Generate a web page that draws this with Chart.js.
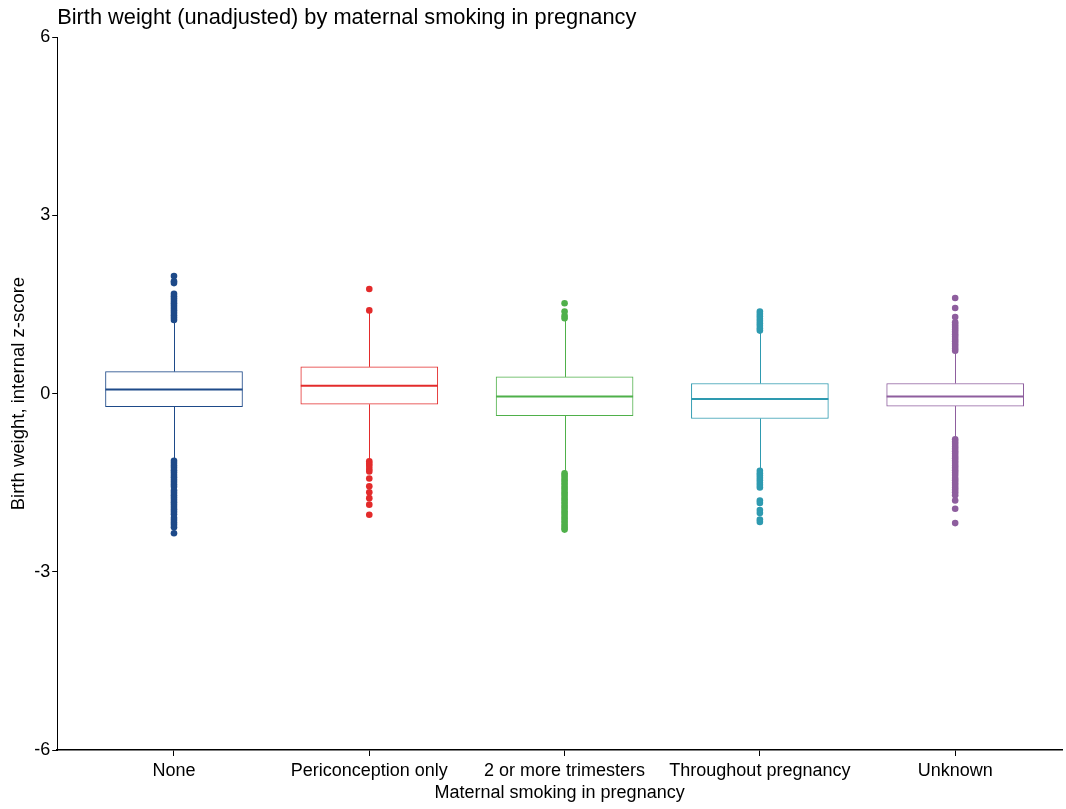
<!DOCTYPE html>
<html>
<head>
<meta charset="utf-8">
<script src="https://cdn.jsdelivr.net/npm/chart.js@4/dist/chart.umd.min.js"></script>
<style>
  html, body { margin: 0; padding: 0; background: #fff; }
  #wrap { width: 1066px; height: 809px; }
</style>
</head>
<body>
<div id="wrap"><canvas id="chart" width="1066" height="809"></canvas></div>
<script>
// Box summaries (internal z-score)
const categories = ["None", "Periconception only", "2 or more trimesters", "Throughout pregnancy", "Unknown"];
const colors = ["#1e4a89", "#e32b2b", "#4fb04a", "#2e9ab0", "#8e5e9e"];
const q1 = [-0.22, -0.18, -0.37, -0.42, -0.21];
const medians = [0.07, 0.13, -0.05, -0.09, -0.05];
const q3 = [0.37, 0.45, 0.28, 0.17, 0.17];
const whiskerLow = [-1.10, -1.11, -1.32, -1.28, -0.75];
const whiskerHigh = [1.21, 1.38, 1.25, 1.03, 0.69];
const yTicks = [-6, -3, 0, 3, 6];

// Outside values per group
const outliersNone = [1.24, 1.28, 1.32, 1.36, 1.40, 1.44, 1.48, 1.52, 1.56, 1.60, 1.64, 1.68, 1.86, 1.89, 1.98,
  -1.13, -1.17, -1.21, -1.25, -1.29, -1.33, -1.37, -1.41, -1.45, -1.49, -1.53, -1.57, -1.63, -1.67, -1.71,
  -1.75, -1.79, -1.83, -1.87, -1.91, -1.95, -1.99, -2.03, -2.09, -2.13, -2.17, -2.21, -2.25, -2.35];
const outliersPeri = [1.40, 1.76, -1.14, -1.18, -1.22, -1.27, -1.31, -1.43, -1.56, -1.66, -1.76, -1.87, -2.04];
const outliersTwoPlus = [1.27, 1.31, 1.38, 1.52,
  -1.34, -1.38, -1.42, -1.46, -1.50, -1.54, -1.58, -1.62, -1.66, -1.70, -1.74, -1.78, -1.82,
  -1.86, -1.90, -1.94, -1.98, -2.02, -2.06, -2.10, -2.14, -2.18, -2.22, -2.26, -2.29];
const outliersThroughout = [1.06, 1.10, 1.14, 1.18, 1.22, 1.26, 1.30, 1.34, 1.38,
  -1.30, -1.34, -1.38, -1.42, -1.46, -1.50, -1.54, -1.58, -1.80, -1.84, -1.96, -2.01, -2.12, -2.16];
const outliersUnknown = [0.72, 0.76, 0.80, 0.84, 0.88, 0.92, 0.96, 1.00, 1.04, 1.08, 1.12, 1.16, 1.20, 1.29, 1.44, 1.61,
  -0.77, -0.81, -0.85, -0.89, -0.93, -0.97, -1.01, -1.05, -1.09, -1.13, -1.17, -1.21, -1.25, -1.29, -1.33, -1.37,
  -1.42, -1.46, -1.50, -1.54, -1.58, -1.62, -1.66, -1.71, -1.80, -1.94, -2.18];
const outliers = [outliersNone, outliersPeri, outliersTwoPlus, outliersThroughout, outliersUnknown];

const FONT = "'Liberation Sans', Arial, sans-serif";

// whiskers behind boxes, medians on top, all placed through chart scales
const boxLines = {
  id: "boxLines",
  beforeDatasetsDraw(chart) {
    const { ctx, scales: { x, y } } = chart;
    ctx.save();
    ctx.lineWidth = 1;
    categories.forEach((c, i) => {
      const px = Math.round(x.getPixelForValue(i + 1)) + 0.5;
      ctx.strokeStyle = colors[i];
      ctx.beginPath();
      ctx.moveTo(px, y.getPixelForValue(q3[i]));
      ctx.lineTo(px, y.getPixelForValue(whiskerHigh[i]));
      ctx.moveTo(px, y.getPixelForValue(q1[i]));
      ctx.lineTo(px, y.getPixelForValue(whiskerLow[i]));
      ctx.stroke();
    });
    ctx.restore();
  },
  afterDatasetsDraw(chart) {
    const { ctx, scales: { y } } = chart;
    const bars = chart.getDatasetMeta(0).data;
    ctx.save();
    ctx.lineWidth = 2;
    categories.forEach((c, i) => {
      const bar = bars[i];
      const py = y.getPixelForValue(medians[i]);
      ctx.strokeStyle = colors[i];
      ctx.beginPath();
      ctx.moveTo(bar.x - bar.width / 2, py);
      ctx.lineTo(bar.x + bar.width / 2, py);
      ctx.stroke();
    });
    ctx.restore();
  }
};

const datasets = [{
  type: "bar",
  data: categories.map((c, i) => ({ x: i + 1, y: [q1[i], q3[i]] })),
  backgroundColor: "#ffffff",
  borderColor: colors,
  borderWidth: 1,
  borderSkipped: false,
  barThickness: 137,
  order: 2
}];
outliers.forEach((vals, i) => {
  datasets.push({
    type: "scatter",
    data: vals.map(v => ({ x: i + 1, y: v })),
    backgroundColor: colors[i],
    borderColor: colors[i],
    borderWidth: 0,
    pointRadius: 3.3,
    order: 1
  });
});

new Chart(document.getElementById("chart"), {
  data: { datasets },
  plugins: [boxLines],
  options: {
    responsive: false,
    animation: false,
    layout: { padding: { left: 8, right: 3, top: 5, bottom: 9 } },
    plugins: {
      legend: { display: false },
      tooltip: { enabled: false },
      title: {
        display: true,
        text: "Birth weight (unadjusted) by maternal smoking in pregnancy",
        align: "start",
        fullSize: false,
        color: "#000",
        font: { family: FONT, size: 21.8, weight: "normal" },
        padding: { top: 0, bottom: 6 }
      }
    },
    scales: {
      x: {
        type: "linear",
        offset: false,
        min: 0.402,
        max: 5.547,
        afterBuildTicks: (scale) => { scale.ticks = categories.map((c, i) => ({ value: i + 1 })); },
        ticks: {
          color: "#000",
          font: { family: FONT, size: 18 },
          padding: 4,
          autoSkip: false,
          maxRotation: 0,
          callback: (v) => categories[Math.round(v) - 1]
        },
        grid: { display: true, offset: false, drawOnChartArea: false, drawTicks: true, tickLength: 6, color: "#000" },
        border: { display: true, color: "#000", width: 1.5 },
        title: {
          display: true,
          text: "Maternal smoking in pregnancy",
          color: "#000",
          font: { family: FONT, size: 18, lineHeight: 0.8 },
          padding: { top: 0, bottom: 0 }
        }
      },
      y: {
        type: "linear",
        min: -6,
        max: 6,
        afterBuildTicks: (scale) => { scale.ticks = yTicks.map(v => ({ value: v })); },
        ticks: {
          color: "#000",
          font: { family: FONT, size: 18 },
          padding: 2
        },
        grid: { display: true, drawOnChartArea: false, drawTicks: true, tickLength: 5, color: "#000" },
        border: { display: true, color: "#000", width: 1 },
        title: {
          display: true,
          text: "Birth weight, internal z-score",
          color: "#000",
          font: { family: FONT, size: 18.5 },
          padding: { top: 0, bottom: 2 }
        }
      }
    }
  }
});
</script>
</body>
</html>
